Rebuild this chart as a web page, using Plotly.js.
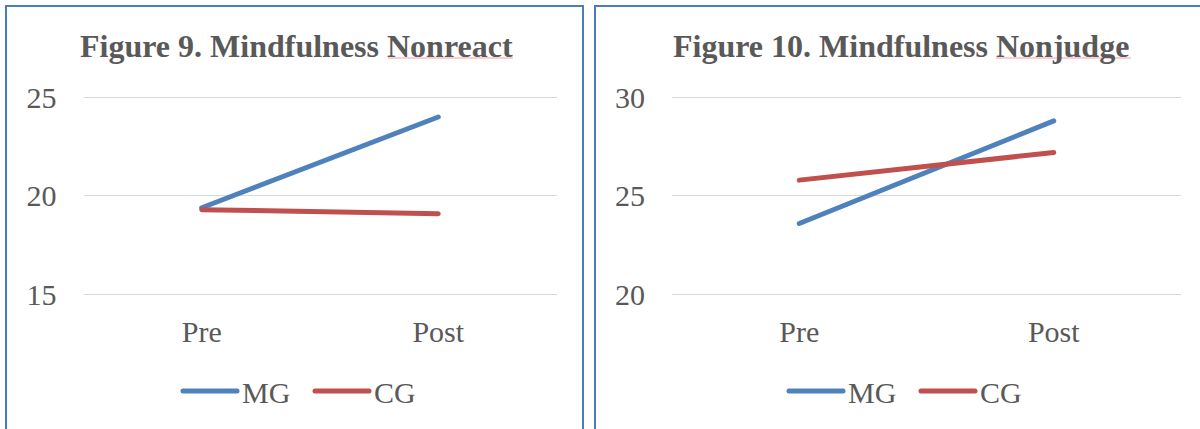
<!DOCTYPE html>
<html>
<head>
<meta charset="utf-8">
<script src="https://cdn.plot.ly/plotly-3.0.1.min.js"></script>
<style>
  html, body { margin: 0; padding: 0; background: #ffffff; }
  #chart { width: 1200px; height: 429px; }
  .js-line, .legendlines path { stroke-linecap: round; }
</style>
</head>
<body>
<div id="chart"></div>
<script>
// ---- data ----
const categories = ["Pre", "Post"];
const seriesNames = ["MG", "CG"];
const nonreactMG = [19.4, 24.0];
const nonreactCG = [19.3, 19.1];
const nonjudgeMG = [23.6, 28.8];
const nonjudgeCG = [25.8, 27.2];
const title9 = "Figure 9. Mindfulness Nonreact";
const title10 = "Figure 10. Mindfulness Nonjudge";
const yTicks9 = [15, 20, 25];
const yTicks10 = [20, 25, 30];

const BLUE = "#4f81bd", RED = "#c0504d", TEXT = "#595959", GRID = "#d9d9d9", FRAME = "#4a7ebb";
const FONT = "Liberation Serif, Times New Roman, serif";
const W = 1200, H = 429;
const px = v => v / W, py = v => 1 - v / H;

const traces = [
  {x: categories, y: nonreactMG, name: seriesNames[0], type: "scatter", mode: "lines",
   line: {color: BLUE, width: 5}, xaxis: "x", yaxis: "y", legend: "legend"},
  {x: categories, y: nonreactCG, name: seriesNames[1], type: "scatter", mode: "lines",
   line: {color: RED, width: 5}, xaxis: "x", yaxis: "y", legend: "legend"},
  {x: categories, y: nonjudgeMG, name: seriesNames[0], type: "scatter", mode: "lines",
   line: {color: BLUE, width: 5}, xaxis: "x2", yaxis: "y2", legend: "legend2"},
  {x: categories, y: nonjudgeCG, name: seriesNames[1], type: "scatter", mode: "lines",
   line: {color: RED, width: 5}, xaxis: "x2", yaxis: "y2", legend: "legend2"}
];

const tickFont = {family: FONT, size: 30, color: TEXT};
const xBase = {type: "category", range: [-0.5, 1.5], showgrid: false, zeroline: false, showline: false,
  ticks: "", tickfont: tickFont, ticklabelstandoff: 13, fixedrange: true};
const yBase = {showgrid: true, gridcolor: GRID, gridwidth: 1, zeroline: false, showline: false,
  ticks: "", tickfont: tickFont, ticklabelstandoff: 26, fixedrange: true};
// y range padded by 0.15 units (~3px) so the edge gridlines are drawn
const yDom = [py(297.5), py(94.3)];

const legendBase = {orientation: "h", xanchor: "left", yanchor: "middle",
  font: {family: FONT, size: 30, color: TEXT}, itemwidth: 54, bgcolor: "rgba(0,0,0,0)",
  traceorder: "normal", entrywidth: 63, entrywidthmode: "pixels"};

const layout = {
  width: W, height: H,
  margin: {l: 0, r: 0, t: 0, b: 0},
  paper_bgcolor: "#ffffff", plot_bgcolor: "#ffffff",
  showlegend: true,
  xaxis: Object.assign({}, xBase, {domain: [px(83.5), px(556.5)], anchor: "y"}),
  yaxis: Object.assign({}, yBase, {domain: yDom, range: [14.85, 25.15], tickvals: yTicks9, anchor: "x"}),
  xaxis2: Object.assign({}, xBase, {domain: [px(672), px(1181)], anchor: "y2"}),
  yaxis2: Object.assign({}, yBase, {domain: yDom, range: [19.85, 30.15], tickvals: yTicks10, anchor: "x2"}),
  legend: Object.assign({}, legendBase, {x: px(178), y: py(391)}),
  legend2: Object.assign({}, legendBase, {x: px(784), y: py(391)}),
  annotations: [
    {text: "<b>" + title9 + "</b>", xref: "paper", yref: "paper", x: px(296), y: py(46),
     xanchor: "center", yanchor: "middle", showarrow: false,
     font: {family: FONT, size: 32, color: TEXT}},
    {text: "<b>" + title10 + "</b>", xref: "paper", yref: "paper", x: px(901), y: py(46),
     xanchor: "center", yanchor: "middle", showarrow: false,
     font: {family: FONT, size: 32, color: TEXT}}
  ],
  shapes: [
    {type: "rect", xref: "paper", yref: "paper", x0: px(6), x1: px(583), y0: -0.1, y1: py(6),
     line: {color: FRAME, width: 2}, fillcolor: "rgba(0,0,0,0)", layer: "above"},
    {type: "rect", xref: "paper", yref: "paper", x0: px(595), x1: 1.1, y0: -0.1, y1: py(6),
     line: {color: FRAME, width: 2}, fillcolor: "rgba(0,0,0,0)", layer: "above"},
    {type: "line", xref: "paper", yref: "paper", x0: px(388), x1: px(513), y0: py(58), y1: py(58),
     line: {color: "rgba(240,80,80,0.55)", width: 1}},
    {type: "line", xref: "paper", yref: "paper", x0: px(996), x1: px(1131), y0: py(58), y1: py(58),
     line: {color: "rgba(240,80,80,0.55)", width: 1}}
  ]
};

Plotly.newPlot("chart", traces, layout, {displayModeBar: false, staticPlot: true});
</script>
</body>
</html>
